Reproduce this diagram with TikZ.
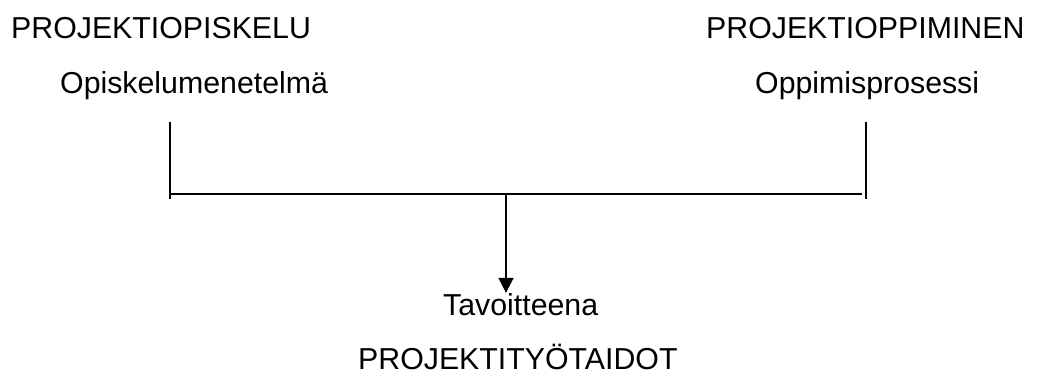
\documentclass[tikz,border=0pt]{standalone}
\usepackage{fontspec}
\setmainfont{Liberation Sans}
\usetikzlibrary{arrows.meta}
\begin{document}
\begin{tikzpicture}[x=1pt,y=-1pt,
  lbl/.style={inner sep=0pt,anchor=base west,font=\fontsize{30.3}{36}\selectfont},
  conn/.style={line width=1.7pt,black},
  arr/.style={conn,-{Triangle[length=15pt,width=15pt]}}]
\useasboundingbox (0,0) rectangle (1050,372);
\node[lbl] (t1) at (11,38) {PROJEKTIOPISKELU};
\node[lbl] (s1) at (60,93) {Opiskelumenetelmä};
\node[lbl] (t2) at (706,38) {PROJEKTIOPPIMINEN};
\node[lbl] (s2) at (755,93) {Oppimisprosessi};
\node[lbl] (tav) at (443,315) {Tavoitteena};
\node[lbl] (goal) at (358,369) {PROJEKTITYÖTAIDOT};
\coordinate (l1) at (170,122);
\coordinate (l2) at (170,199);
\coordinate (r1) at (866,122);
\coordinate (r2) at (866,199);
\coordinate (h1) at (170,194);
\coordinate (h2) at (862,194);
\coordinate (m) at (506,194);
\draw[conn] (l1) -- (l2);
\draw[conn] (r1) -- (r2);
\draw[conn] (h1) -- (h2);
\draw[arr] (m) -- (m |- tav.north);
\end{tikzpicture}
\end{document}
